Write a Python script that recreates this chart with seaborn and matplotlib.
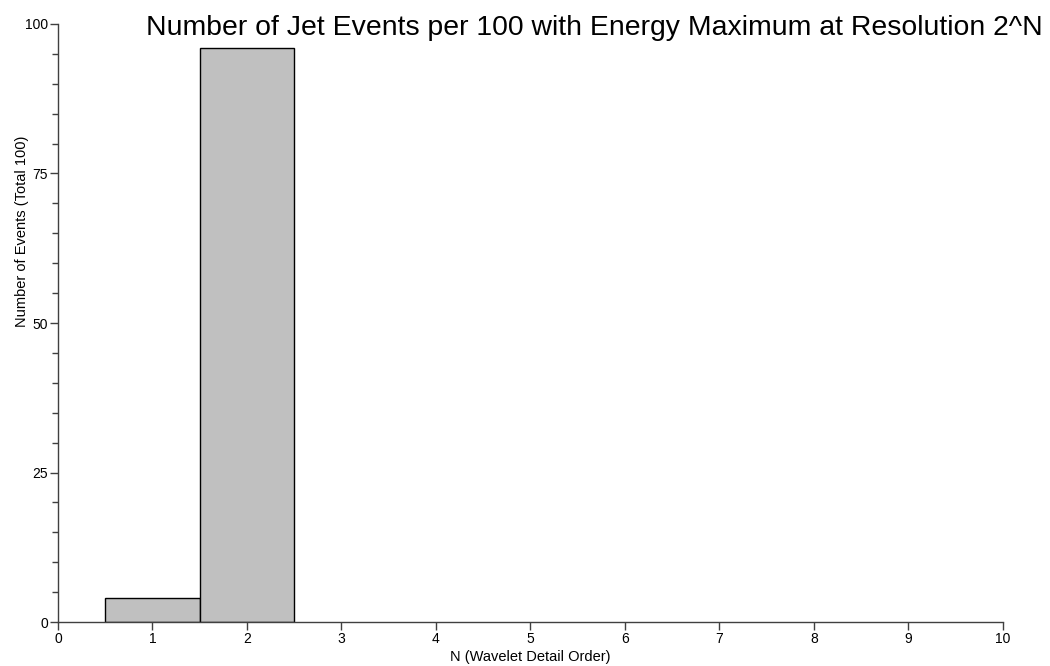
#!/usr/bin/env python3

import numpy as np
import pandas as pd
import matplotlib
matplotlib.use("Agg")
import matplotlib.pyplot as plt
from matplotlib.ticker import MultipleLocator
import seaborn as sns

# Data
n_order = [1, 2]
events = [4, 96]
x_ticks = list(range(0, 11))
y_ticks = [0, 25, 50, 75, 100]

sns.set_style("ticks")
plt.rcParams['font.family'] = ['Liberation Sans', 'DejaVu Sans']
plt.rcParams['text.color'] = 'black'
plt.rcParams['axes.labelcolor'] = 'black'
plt.rcParams['xtick.labelcolor'] = 'black'
plt.rcParams['ytick.labelcolor'] = 'black'

df = pd.DataFrame({'N': n_order, 'Events': events})

fig = plt.figure(figsize=(10.5, 6.66), dpi=100)
ax = fig.add_axes([0.0552, 0.066, 0.9, 0.898])

sns.barplot(data=df, x='N', y='Events', native_scale=True, width=1,
            color='#C0C0C0', edgecolor='black', linewidth=1, saturation=1, ax=ax)

ax.set_xlim(0, 10)
ax.set_ylim(0, 100)
ax.set_xticks(x_ticks)
ax.set_yticks(y_ticks)
ax.yaxis.set_minor_locator(MultipleLocator(5))
ax.tick_params(axis='both', which='major', length=6, width=1, color='#404040',
               labelsize=10, pad=1)
ax.tick_params(axis='y', which='minor', length=4, width=1, color='#404040')
sns.despine(ax=ax)
for s in ['left', 'bottom']:
    ax.spines[s].set_color('#404040')
    ax.spines[s].set_linewidth(1)

ax.set_xlabel('N (Wavelet Detail Order)', fontsize=10.5, labelpad=3)
ax.set_ylabel('Number of Events (Total 100)', fontsize=10.5)
ax.yaxis.set_label_coords(-0.031, 0.654)

fig.text(0.993, 0.947, 'Number of Jet Events per 100 with Energy Maximum at Resolution 2^N',
         ha='right', va='baseline', fontsize=20.4)

fig.savefig('out.png', dpi=100, facecolor='white')
